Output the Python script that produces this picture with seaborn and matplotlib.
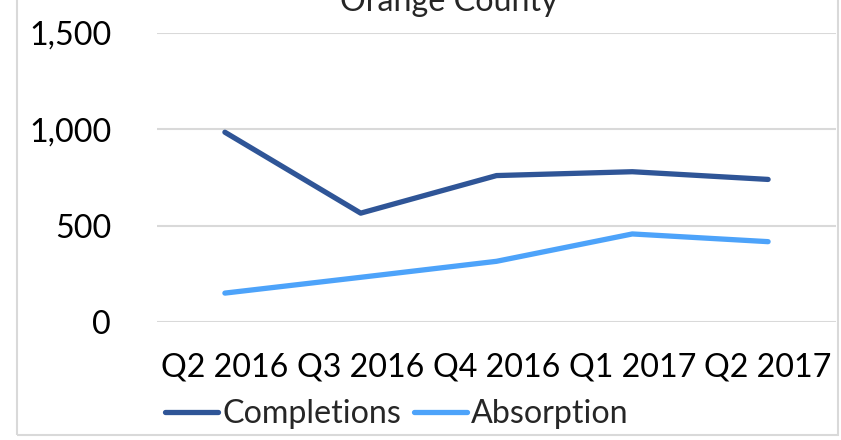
import matplotlib
matplotlib.use("Agg")
import matplotlib.pyplot as plt
import matplotlib.ticker as mticker
from matplotlib.patches import Rectangle
import pandas as pd
import seaborn as sns

quarters = ["Q2 2016", "Q3 2016", "Q4 2016", "Q1 2017", "Q2 2017"]
completions = [985, 565, 760, 780, 740]
absorption = [150, 232, 315, 457, 417]
series_names = ["Completions", "Absorption"]
series_colors = ["#2F5597", "#4DA3FA"]
y_ticks = [0, 500, 1000, 1500]

df = pd.DataFrame({
    "Quarter": quarters * 2,
    "Units": completions + absorption,
    "Series": [series_names[0]] * len(quarters) + [series_names[1]] * len(quarters),
})
df["pos"] = [quarters.index(q) for q in df["Quarter"]]

sns.set_style("white")
plt.rcParams["font.family"] = ["Lato", "DejaVu Sans"]

FS = 23.2

fig = plt.figure(figsize=(8.41, 4.40), dpi=100)
ax = fig.add_axes([157 / 841, 1 - 322 / 440, (836 - 157) / 841, (322 - 33) / 440])

sns.lineplot(data=df, x="pos", y="Units", hue="Series", hue_order=series_names,
             palette=series_colors, linewidth=3.8, ax=ax, legend=False,
             solid_capstyle="round", solid_joinstyle="round")

ax.set_xlim(-0.5, len(quarters) - 0.5)
ax.set_ylim(0, 1500)
ax.set_yticks(y_ticks)
ax.yaxis.set_major_formatter(mticker.FuncFormatter(lambda v, p: f"{int(v):,}"))
ax.set_xticks(range(len(quarters)))
ax.set_xticklabels(quarters)
ax.tick_params(axis="both", length=0, labelsize=FS, colors="black")
ax.tick_params(axis="x", pad=22)
ax.tick_params(axis="y", pad=33)
ax.set_xlabel("")
ax.set_ylabel("")
ax.grid(axis="y", color="#d9d9d9", linewidth=1.5)
ax.set_axisbelow(True)
for s in ax.spines.values():
    s.set_visible(False)

fig.text(449 / 841, 1 - 11 / 440, "Orange County", ha="center", va="baseline", fontsize=FS)

handles = [plt.Line2D([], [], color=c, linewidth=3.8, solid_capstyle="round") for c in series_colors]
fig.legend(handles, series_names, loc="center", bbox_to_anchor=(397 / 841, 1 - 414 / 440),
           ncol=2, frameon=False, fontsize=FS, handlelength=1.65, handletextpad=0.12,
           columnspacing=0.4, borderpad=0)

fig.patches.append(Rectangle((17 / 841, 5 / 440), (838 - 17) / 841, 1.2, transform=fig.transFigure,
                             fill=False, edgecolor="#d9d9d9", linewidth=1.5))

fig.savefig("out.png", dpi=100)
